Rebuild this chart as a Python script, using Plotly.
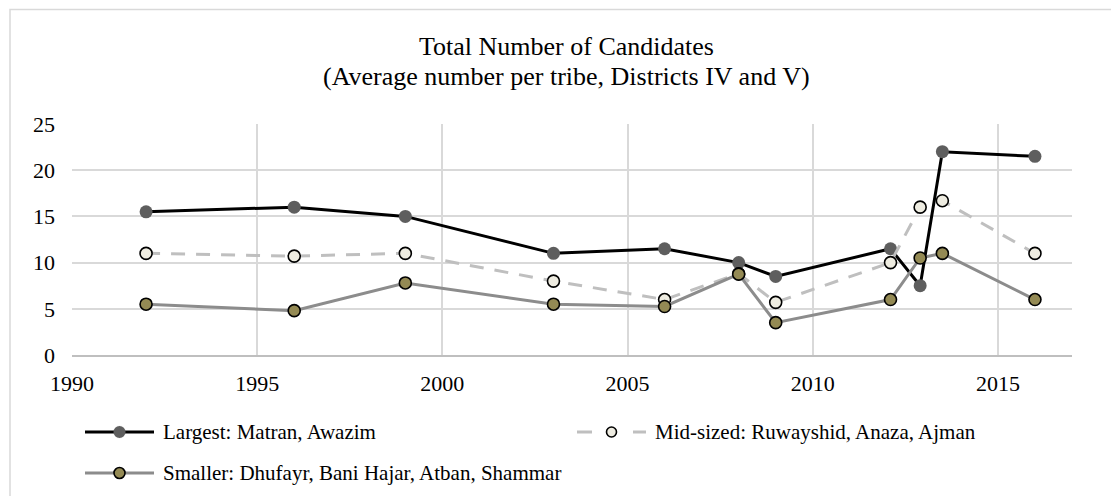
import plotly.graph_objects as go

# ---- data ----
years = [1992, 1996, 1999, 2003, 2006, 2008, 2009, 2012.1, 2012.9, 2013.5, 2016]
largest = [15.5, 16.0, 15.0, 11.0, 11.5, 10.0, 8.5, 11.5, 7.5, 22.0, 21.5]
mid_sized = [11.0, 10.7, 11.0, 8.0, 6.0, 8.8, 5.7, 10.0, 16.0, 16.7, 11.0]
smaller = [5.5, 4.8, 7.8, 5.5, 5.25, 8.75, 3.5, 6.0, 10.5, 11.0, 6.0]
series_names = ["Largest: Matran, Awazim",
                "Mid-sized: Ruwayshid, Anaza, Ajman",
                "Smaller: Dhufayr, Bani Hajar, Atban, Shammar"]
title_lines = ["Total Number of Candidates",
               "(Average number per tribe, Districts IV and V)"]
x_ticks = [1990, 1995, 2000, 2005, 2010, 2015]
y_ticks = [0, 5, 10, 15, 20, 25]

FONT = "Liberation Serif"
W, H = 1111, 496
L, R, T, B = 72, 39, 124, 141
PW, PH = W - L - R, H - T - B


def px(x):
    return (x - L) / PW


def py(y):
    return (H - B - y) / PH


styles = [
    dict(line=dict(color="#000000", width=3),
         marker=dict(color="#5e5e5e", size=13, line=dict(width=0))),
    dict(line=dict(color="#bfbfbf", width=3, dash="14px,11px"),
         marker=dict(color="#eeece1", size=12, line=dict(color="#000000", width=1.6))),
    dict(line=dict(color="#8c8c8c", width=3),
         marker=dict(color="#948a54", size=12, line=dict(color="#000000", width=1.6))),
]

fig = go.Figure()
for name, vals, st in zip(series_names, [largest, mid_sized, smaller], styles):
    fig.add_trace(go.Scatter(x=years, y=vals, mode="lines+markers", name=name,
                             line=st["line"], marker=st["marker"], showlegend=False))

shapes = []
annotations = []

# chart-area border
shapes.append(dict(type="rect", xref="paper", yref="paper",
                   x0=px(10), x1=px(1125), y0=py(510), y1=py(9.5),
                   line=dict(color="#d9d9d9", width=1.5), layer="below"))

# title
for txt, yy in zip(title_lines, [46, 77]):
    annotations.append(dict(text=txt, xref="paper", yref="paper", x=px(566), y=py(yy),
                            xanchor="center", yanchor="middle", showarrow=False,
                            font=dict(family=FONT, size=26, color="#000000")))

# custom legend
leg_pos = [(85, 432), (577, 432), (85, 473)]
leg_marker_size = [12, 10, 11]
for i, (name, st) in enumerate(zip(series_names, styles)):
    x0, yy = leg_pos[i]
    x1 = x0 + 69
    xc = (x0 + x1) / 2
    lc = st["line"]["color"]
    if i == 1:
        for a, b in [(x0, x0 + 15), (x1 - 13, x1)]:
            shapes.append(dict(type="line", xref="paper", yref="paper",
                               x0=px(a), x1=px(b), y0=py(yy), y1=py(yy),
                               line=dict(color=lc, width=3)))
    else:
        shapes.append(dict(type="line", xref="paper", yref="paper",
                           x0=px(x0), x1=px(x1), y0=py(yy), y1=py(yy),
                           line=dict(color=lc, width=3)))
    r = leg_marker_size[i] / 2
    mk = st["marker"]
    lw = mk["line"].get("width", 0)
    shapes.append(dict(type="circle", xref="paper", yref="paper",
                       xsizemode="pixel", ysizemode="pixel",
                       xanchor=px(xc), yanchor=py(yy),
                       x0=-r, x1=r, y0=-r, y1=r,
                       fillcolor=mk["color"],
                       line=dict(color=mk["line"].get("color", mk["color"]) if lw else mk["color"],
                                 width=lw if lw else 0.1)))
    annotations.append(dict(text=name, xref="paper", yref="paper",
                            x=px(x1 + 7), y=py(yy), xanchor="left", yanchor="middle",
                            showarrow=False,
                            font=dict(family=FONT, size=21, color="#000000")))

fig.update_layout(
    width=W, height=H,
    margin=dict(l=L, r=R, t=T, b=B, pad=0),
    paper_bgcolor="#ffffff", plot_bgcolor="#ffffff",
    font=dict(family=FONT, size=22, color="#000000"),
    showlegend=False,
    shapes=shapes, annotations=annotations,
    xaxis=dict(range=[1990, 2017], tickvals=x_ticks, ticktext=[str(v) for v in x_ticks],
               showgrid=True, gridcolor="#d9d9d9", gridwidth=1.5,
               showline=True, linecolor="#bfbfbf", linewidth=1.5,
               ticks="", zeroline=False, ticklabelstandoff=8,
               tickfont=dict(family=FONT, size=22)),
    yaxis=dict(range=[0, 25], tickvals=y_ticks, ticktext=[str(v) for v in y_ticks],
               showgrid=True, gridcolor="#d9d9d9", gridwidth=1.5,
               showline=False, ticks="", zeroline=False, ticklabelstandoff=16,
               tickfont=dict(family=FONT, size=22)),
)

fig.write_html("out.html")
